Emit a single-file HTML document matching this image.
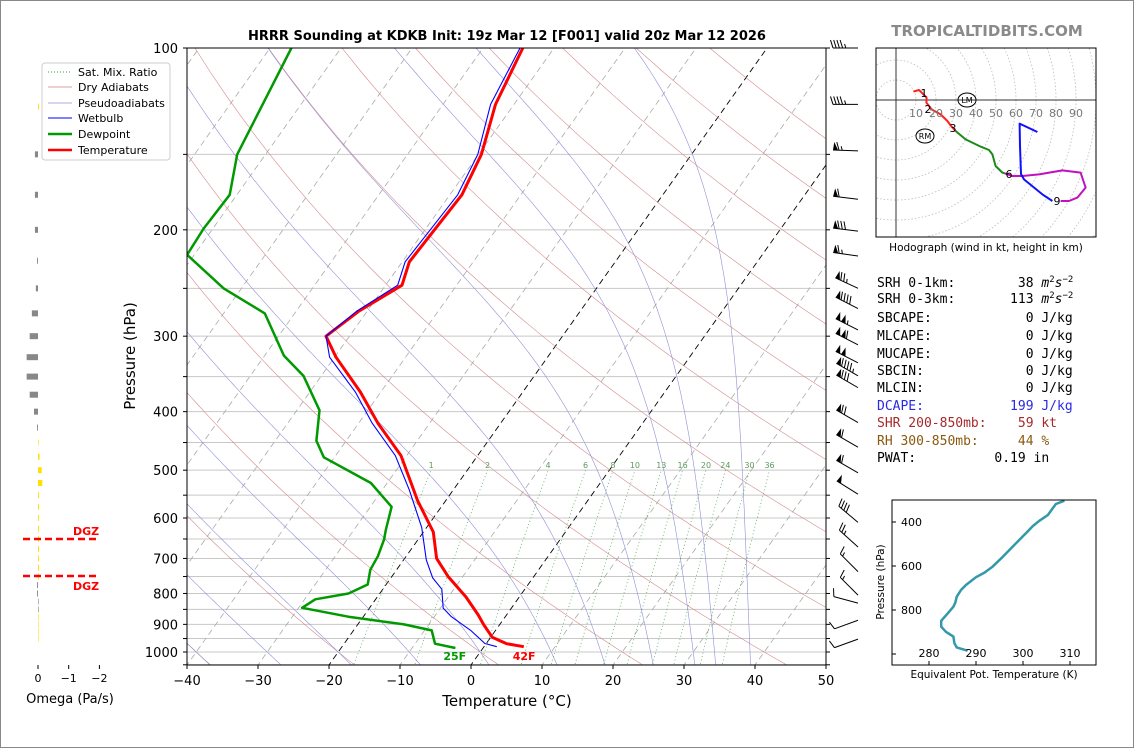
<!DOCTYPE html>
<html><head><meta charset="utf-8"><style>
html,body{margin:0;padding:0;background:#fff}
body{width:1134px;height:748px;overflow:hidden;position:relative}
svg{position:absolute;left:0;top:0}
text{font-family:"DejaVu Sans","Liberation Sans",sans-serif}
.mono{font-family:"DejaVu Sans Mono","Liberation Mono",monospace;font-size:13px;white-space:pre}
</style></head><body>
<svg id="s" width="1134" height="748" viewBox="0 0 1134 748" xmlns="http://www.w3.org/2000/svg">
<rect x="0.5" y="0.5" width="1133" height="747" fill="#fff" stroke="#888"/>
<defs><clipPath id="pc"><rect x="187" y="48" width="639" height="617"/></clipPath>
<clipPath id="hc"><rect x="876" y="48" width="220" height="189"/></clipPath>
<clipPath id="tc"><rect x="892" y="500" width="204" height="165"/></clipPath></defs>
<text x="507" y="40" text-anchor="middle" font-size="13" font-weight="bold">HRRR Sounding at KDKB Init: 19z Mar 12 [F001] valid 20z Mar 12 2026</text>
<text x="987" y="36" text-anchor="middle" font-size="15" font-weight="bold" fill="#8a8a8a">TROPICALTIDBITS.COM</text>
<g id="bg" clip-path="url(#pc)"></g>
<g id="prof" clip-path="url(#pc)"></g>
<g id="ax"></g>
<g id="barbs"></g>
<g id="omega"></g>
<g id="hodo"></g>
<g id="te"></g>
<g>
<rect x="42" y="63" width="128" height="97" rx="3" fill="#fff" fill-opacity="0.9" stroke="#ccc"/>
<line x1="48" y1="72" x2="72" y2="72" stroke="#339933" stroke-dasharray="1,2"/>
<text x="78" y="76" font-size="11">Sat. Mix. Ratio</text>
<line x1="48" y1="87" x2="72" y2="87" stroke="#d08080" stroke-width="0.7"/>
<text x="78" y="91" font-size="11">Dry Adiabats</text>
<line x1="48" y1="103" x2="72" y2="103" stroke="#9090d8" stroke-width="0.7"/>
<text x="78" y="107" font-size="11">Pseudoadiabats</text>
<line x1="48" y1="118" x2="72" y2="118" stroke="#0000ff"/>
<text x="78" y="122" font-size="11">Wetbulb</text>
<line x1="48" y1="134" x2="72" y2="134" stroke="#009900" stroke-width="2.5"/>
<text x="78" y="138" font-size="11">Dewpoint</text>
<line x1="48" y1="150" x2="72" y2="150" stroke="#ff0000" stroke-width="2.5"/>
<text x="78" y="154" font-size="11">Temperature</text>
</g>
<g>
<text class="mono" x="877" y="287">SRH 0-1km:        38 <tspan font-style="italic">m</tspan><tspan font-size="9" dy="-5">2</tspan><tspan font-style="italic" dy="5">s</tspan><tspan font-size="9" dy="-5">−2</tspan></text>
<text class="mono" x="877" y="303">SRH 0-3km:       113 <tspan font-style="italic">m</tspan><tspan font-size="9" dy="-5">2</tspan><tspan font-style="italic" dy="5">s</tspan><tspan font-size="9" dy="-5">−2</tspan></text>
<text class="mono" x="877" y="322">SBCAPE:            0 J/kg</text>
<text class="mono" x="877" y="340">MLCAPE:            0 J/kg</text>
<text class="mono" x="877" y="358">MUCAPE:            0 J/kg</text>
<text class="mono" x="877" y="375">SBCIN:             0 J/kg</text>
<text class="mono" x="877" y="392">MLCIN:             0 J/kg</text>
<text class="mono" x="877" y="410" fill="#2a2ae0">DCAPE:           199 J/kg</text>
<text class="mono" x="877" y="427" fill="#a52a2a">SHR 200-850mb:    59 kt</text>
<text class="mono" x="877" y="445" fill="#8b5a10">RH 300-850mb:     44 %</text>
<text class="mono" x="877" y="462">PWAT:          0.19 in</text>
</g>
</svg>
<script>
// ---- Sounding data ----
const tempP = [100,124,150,175,226,247,273,300,325,371,418,473,561,633,700,751,811,868,900,945,969,980];
const tempC = [-54.4,-52.6,-49.6,-48.3,-49,-47.7,-51.2,-53.3,-49.8,-42.9,-37.3,-30.8,-24,-18.6,-15.5,-12,-7.5,-4,-2.3,0.2,2.9,5.6];
const dewP = [100,150,175,199,220,250,275,323,349,398,447,476,525,575,628,651,694,731,773,800,818,845,874,900,921,969,985];
const dewC = [-87,-84,-81,-81.3,-81,-72.5,-64.2,-57.3,-52.5,-46.8,-44.2,-41.5,-32.3,-27,-25.5,-24.8,-24,-23.7,-22.6,-24.4,-28.5,-29.5,-22.1,-13.5,-9,-7.2,-3.9];
const wbP = [100,124,150,175,226,247,273,300,325,371,418,473,539,622,704,754,787,846,874,921,968,980];
const wbC = [-54.8,-53.3,-50.1,-48.9,-49.6,-48.3,-51.5,-53.3,-50.7,-43.6,-38.1,-31.6,-26.2,-20.7,-16.8,-14.1,-11.7,-9.6,-7.6,-3.5,-0.2,1.8];
// winds
const windP = [100,124,148,178,201,221,250,270,293,310,332,349,365,417,458,505,548,610,670,736,805,830,886,952];
const windSpd = [45,45,65,60,80,65,75,90,105,110,100,95,80,70,60,60,50,40,25,15,15,10,10,10];
const windDir = [270,270,272,277,277,278,295,297,297,297,297,300,300,300,300,300,302,310,312,315,315,285,250,250];
// omega
const omegaP = [125,150,175,200,225,250,275,300,325,350,375,400,425,450,475,500,525,550,575,600,625,650,675,700,725,750,775,800,825,850,875,900,925,950];
const omegaV = [-0.03,0.1,0.1,0.1,0.03,0.07,0.2,0.27,0.37,0.37,0.27,0.13,0.03,-0.02,-0.05,-0.12,-0.14,-0.03,-0.03,-0.03,-0.03,-0.03,-0.03,-0.03,-0.03,-0.03,0.03,0.03,0,0,-0.02,-0.02,-0.02,-0.02];
// hodograph (kt)
const hodoRedU=[8.7,11.5,12.8,15.3,15.2,17.8,22.3,25.7,27.3,29.8];
const hodoRedV=[4.2,5,3.7,1.2,-1.3,-4.7,-7.2,-10.5,-12.7,-15.5];
const hodoGreenU=[29.8,34.8,42.3,46.5,48.2,49.8,53.2,54.5];
const hodoGreenV=[-15.5,-19.7,-23.3,-25,-27.2,-33,-36.3,-36.7];
const hodoMagU=[54.5,58.2,63.2,71.5,83.2,92.3,94.8,90.7,86.5,82.3];
const hodoMagV=[-36.7,-38,-38,-37.2,-35.2,-36.3,-43.8,-48.8,-50.5,-50.5];
const hodoBlueU=[78.2,73.2,64,62.5,62,61.8,70.7];
const hodoBlueV=[-50.5,-47.2,-39.7,-37,-23,-11.8,-16];
// theta-e
const thetaeP=[303,318,338,368,394,418,452,482,512,558,603,630,651,686,709,740,767,785,815,849,876,899,921,951,970,985];
const thetaeK=[308.8,307,306.3,305.3,303.5,302.1,300.6,299.2,297.8,295.7,293.5,291.8,290,287.9,286.8,285.9,285.6,285.2,284,282.6,282.6,283.6,285.2,285.4,285.9,288.2];
const xTicks=[-40,-30,-20,-10,0,10,20,30,40,50];
const pTicks=[100,200,300,400,500,600,700,800,900,1000];
const mixW=[1,2,4,6,8,10,13,16,20,24,30,36];

const NS='http://www.w3.org/2000/svg';
function mk(parent,tag,attrs){const e=document.createElementNS(NS,tag);for(const k in attrs)e.setAttribute(k,attrs[k]);parent.appendChild(e);return e;}
const Y=p=>48+604*Math.log10(p/100);
const X=(T,p)=>187+(T+40)*7.1+(665-Y(p))*0.71;
const bg=document.getElementById('bg'), prof=document.getElementById('prof'), ax=document.getElementById('ax');
function poly(parent,pts,attrs){return mk(parent,'polyline',Object.assign({points:pts.map(q=>q[0].toFixed(1)+','+q[1].toFixed(1)).join(' '),fill:'none'},attrs));}
for(let p=100;p<=1050;p+=50){const l=mk(bg,'line',{x1:187,x2:826,y1:Y(p),y2:Y(p),stroke:'#c8c8c8','stroke-width':1});

}
for(let T=-120;T<=50;T+=10){const black=(T===0||T===-20);const l=mk(bg,'line',{x1:X(T,1060),y1:Y(1060),x2:X(T,90),y2:Y(90),stroke:black?'#000':'#aaa','stroke-width':black?0.9:0.8,'stroke-dasharray':'6,4'});

}
for(let t0=-40;t0<=200;t0+=20){const th=t0+273.15;const pts=[];for(let p=1060;p>=90;p-=10){pts.push([X(th*Math.pow(p/1000,0.2857)-273.15,p),Y(p)]);}
const l=poly(bg,pts,{stroke:'#d08080','stroke-width':0.6,'stroke-opacity':0.9});

}
function dTdp(p,T){const es=6.112*Math.exp(17.67*(T-273.15)/(T-29.65));const rs=0.622*es/(p-es);const Rd=287,Cp=1005,Lv=2.5e6;return (Rd*T+Lv*rs)/(p*(Cp+Lv*Lv*rs*0.622/(Rd*T*T)));}
const moistT0=[-40,-30,-20,-10,0,10,17,24,30,33,38];
moistT0.forEach(t0=>{let T=t0+273.15,p=1000;const up=[[X(t0,1000),Y(1000)]];
 while(p>100){const h=-5;const k1=dTdp(p,T),k2=dTdp(p+h/2,T+h/2*k1);T+=h*k2;p+=h;up.push([X(T-273.15,p),Y(p)]);}
 T=t0+273.15;p=1000;const dn=[];while(p<1060){const h=5;const k1=dTdp(p,T),k2=dTdp(p+h/2,T+h/2*k1);T+=h*k2;p+=h;dn.unshift([X(T-273.15,p),Y(p)]);}
 const l=poly(bg,dn.concat(up),{stroke:'#9090d8','stroke-width':0.6});
 
 });
function tdFromW(w,p){const e=p*w/(622+w);const a=Math.log(e/6.112);return 243.5*a/(17.67-a);}
mixW.forEach(w=>{const pts=[];for(let p=1060;p>=500;p-=10)pts.push([X(tdFromW(w,p),p),Y(p)]);
 const l=poly(bg,pts,{stroke:'#339933','stroke-width':0.8,'stroke-dasharray':'1,2.5','stroke-opacity':0.8});
 
 
 const t=mk(ax,'text',{x:X(tdFromW(w,500),500),y:468,'text-anchor':'middle','font-size':8,fill:'#5a9a5a'});t.textContent=w;
 
 });
function profile(P,T,color,w,name){const l=poly(prof,P.map((p,i)=>[X(T[i],p),Y(p)]),{stroke:color,'stroke-width':w,'stroke-linejoin':'round'});
 
 }
profile(dewP,dewC,'#009900',2.5,'dewpoint-line');
profile(tempP,tempC,'#ff0000',3,'temperature-line');
profile(wbP,wbC,'#0000ff',1.1,'wetbulb-line');
{const n=tempP.length-1;const t=mk(ax,'text',{x:X(tempC[n],tempP[n])-11,y:660,'font-size':11,'font-weight':'bold',fill:'#ff0000'});t.textContent=Math.round(tempC[n]*1.8+32)+'F';


const m=dewP.length-1;const d=mk(ax,'text',{x:X(dewC[m],dewP[m])-12,y:660,'font-size':11,'font-weight':'bold',fill:'#009900'});d.textContent=Math.round(dewC[m]*1.8+32)+'F';

}
mk(ax,'rect',{x:187,y:48,width:639,height:617,fill:'none',stroke:'#000','stroke-width':1});
for(let p=100;p<=1050;p+=50){mk(ax,'line',{x1:183,x2:187,y1:Y(p),y2:Y(p),stroke:'#000'});mk(ax,'line',{x1:826,x2:830,y1:Y(p),y2:Y(p),stroke:'#000'});}
pTicks.forEach(p=>{const t=mk(ax,'text',{x:178,y:Y(p)+5,'text-anchor':'end','font-size':13});t.textContent=p;

});
xTicks.forEach(T=>{const x=187+(T+40)*7.1;mk(ax,'line',{x1:x,x2:x,y1:665,y2:669,stroke:'#000'});const t=mk(ax,'text',{x:x,y:685,'text-anchor':'middle','font-size':13});t.textContent=T<0?'−'+(-T):T;

});
{const t=mk(ax,'text',{x:507,y:706,'text-anchor':'middle','font-size':15});t.textContent='Temperature (°C)';


const u=mk(ax,'text',{x:0,y:0,'text-anchor':'middle','font-size':15,transform:'translate(135,356) rotate(-90)'});u.textContent='Pressure (hPa)';

}
const bg2=document.getElementById('barbs');
windP.forEach((p,i)=>{const d=windDir[i]*Math.PI/180;const sx=Math.sin(d),sy=-Math.cos(d);const px=-sy,py=sx;
 const bx=858,by=Y(p),L=25;const tx=bx+sx*L,ty=by+sy*L;
 const g=mk(bg2,'g',{});
 
 
 mk(g,'line',{x1:bx,y1:by,x2:tx,y2:ty,stroke:'#000','stroke-width':1});
 let s=windSpd[i];let n50=Math.floor(s/50);s-=n50*50;let n10=Math.floor(s/10);s-=n10*10;let n5=s>=2.5?1:0;
 let pos=0;
 for(let k=0;k<n50;k++){const ax0=tx-sx*pos,ay0=ty-sy*pos;mk(g,'polygon',{points:[ax0,ay0,ax0-sx*5,ay0-sy*5,ax0-sx*1+px*8,ay0-sy*1+py*8].join(','),fill:'#000'});pos+=6;}
 if(n50&&!n10&&n5)pos+=1;
 for(let k=0;k<n10;k++){const ax0=tx-sx*pos,ay0=ty-sy*pos;mk(g,'line',{x1:ax0,y1:ay0,x2:ax0+px*8+sx*2.5,y2:ay0+py*8+sy*2.5,stroke:'#000'});pos+=3.2;}
 if(n5){if(pos===0)pos=3.2;const ax0=tx-sx*pos,ay0=ty-sy*pos;mk(g,'line',{x1:ax0,y1:ay0,x2:ax0+px*4+sx*1.2,y2:ay0+py*4+sy*1.2,stroke:'#000'});}
});
const om=document.getElementById('omega');const OX=v=>38-v*30.7;
omegaP.forEach((p,i)=>{const v=omegaV[i];const x1=Math.min(OX(0),OX(v)),w=Math.max(Math.abs(OX(v)-OX(0)),0.6);
 const r=mk(om,'rect',{x:x1,y:Y(p)-3,width:w,height:6,fill:v>=0?'#888888':'#ffe000'});
 
 });
[0,-1,-2].forEach(v=>{mk(om,'line',{x1:OX(v),x2:OX(v),y1:665,y2:669,stroke:'#000'});const t=mk(om,'text',{x:OX(v),y:682,'text-anchor':'middle','font-size':11});t.textContent=v<0?'−'+(-v):v;
 
 });
{const t=mk(om,'text',{x:70,y:703,'text-anchor':'middle','font-size':13});t.textContent='Omega (Pa/s)';

}
mk(om,'line',{x1:23,x2:99,y1:539,y2:539,stroke:'#ff0000','stroke-width':2.5,'stroke-dasharray':'7,4'});
mk(om,'line',{x1:23,x2:99,y1:576,y2:576,stroke:'#ff0000','stroke-width':2.5,'stroke-dasharray':'7,4'});
{const a=mk(om,'text',{x:73,y:535,'font-size':11,'font-weight':'bold',fill:'#ff0000'});a.textContent='DGZ';


const b=mk(om,'text',{x:73,y:590,'font-size':11,'font-weight':'bold',fill:'#ff0000'});b.textContent='DGZ';

}
const ho=document.getElementById('hodo');const HX=u=>896+u*2,HY=v=>100-v*2;
const hg=mk(ho,'g',{'clip-path':'url(#hc)'});
for(let r=10;r<=140;r+=10)mk(hg,'circle',{cx:896,cy:100,r:r*2,fill:'none',stroke:'#bbb','stroke-width':0.8,'stroke-dasharray':'1.5,2'});
mk(hg,'line',{x1:896,x2:896,y1:48,y2:237,stroke:'#333','stroke-width':1});
mk(hg,'line',{x1:876,x2:1096,y1:100,y2:100,stroke:'#333','stroke-width':1});
for(let k=10;k<=90;k+=10){const t=mk(ho,'text',{x:HX(k),y:117,'text-anchor':'middle','font-size':11,fill:'#777'});t.textContent=k;
 
 }
function hseg(U,V,c,name){const l=poly(hg,U.map((u,i)=>[HX(u),HY(V[i])]),{stroke:c,'stroke-width':2,'stroke-linejoin':'round'});
 
 }
hseg(hodoRedU,hodoRedV,'#ff2020','hodo-0-3km');
hseg(hodoGreenU,hodoGreenV,'#1a8a1a','hodo-3-6km');
hseg(hodoMagU,hodoMagV,'#c010c0','hodo-6-9km');
hseg(hodoBlueU,hodoBlueV,'#1010ff','hodo-9-12km');
[['1',924,97],['2',928,113],['3',953,132],['6',1009,178],['9',1057,205]].forEach(a=>{const t=mk(ho,'text',{x:a[1],y:a[2],'text-anchor':'middle','font-size':11});t.textContent=a[0];
 
 });
mk(ho,'ellipse',{cx:967,cy:100,rx:9,ry:7,fill:'none',stroke:'#000'});mk(ho,'ellipse',{cx:925,cy:136,rx:9,ry:7,fill:'none',stroke:'#000'});
{const a=mk(ho,'text',{x:967,y:103,'text-anchor':'middle','font-size':8});a.textContent='LM';


const b=mk(ho,'text',{x:925,y:139,'text-anchor':'middle','font-size':8});b.textContent='RM';

}
mk(ho,'rect',{x:876,y:48,width:220,height:189,fill:'none',stroke:'#000'});
{const t=mk(ho,'text',{x:986,y:251,'text-anchor':'middle','font-size':10.5});t.textContent='Hodograph (wind in kt, height in km)';

}
const te=document.getElementById('te');const TX=k=>929+(k-280)*4.7,TY=p=>522+(p-400)*0.22;
{const l=poly(mk(te,'g',{'clip-path':'url(#tc)'}),thetaeP.map((p,i)=>[TX(thetaeK[i]),TY(p)]),{stroke:'#3399aa','stroke-width':2.5,'stroke-linejoin':'round'});

}
mk(te,'rect',{x:892,y:500,width:204,height:165,fill:'none',stroke:'#000'});
[400,600,800,1000].forEach(p=>{mk(te,'line',{x1:892,x2:896,y1:TY(p),y2:TY(p),stroke:'#000'});if(p<1000){const t=mk(te,'text',{x:901,y:TY(p)+4,'font-size':11});t.textContent=p;
 
 }});
[280,290,300,310].forEach(k=>{mk(te,'line',{x1:TX(k),x2:TX(k),y1:661,y2:665,stroke:'#000'});const t=mk(te,'text',{x:TX(k),y:657,'text-anchor':'middle','font-size':11});t.textContent=k;
 
 });
{const t=mk(te,'text',{x:994,y:678,'text-anchor':'middle','font-size':10.5});t.textContent='Equivalent Pot. Temperature (K)';


const u=mk(te,'text',{x:0,y:0,'text-anchor':'middle','font-size':10.5,transform:'translate(884,582) rotate(-90)'});u.textContent='Pressure (hPa)';

}
</script>
</body></html>
